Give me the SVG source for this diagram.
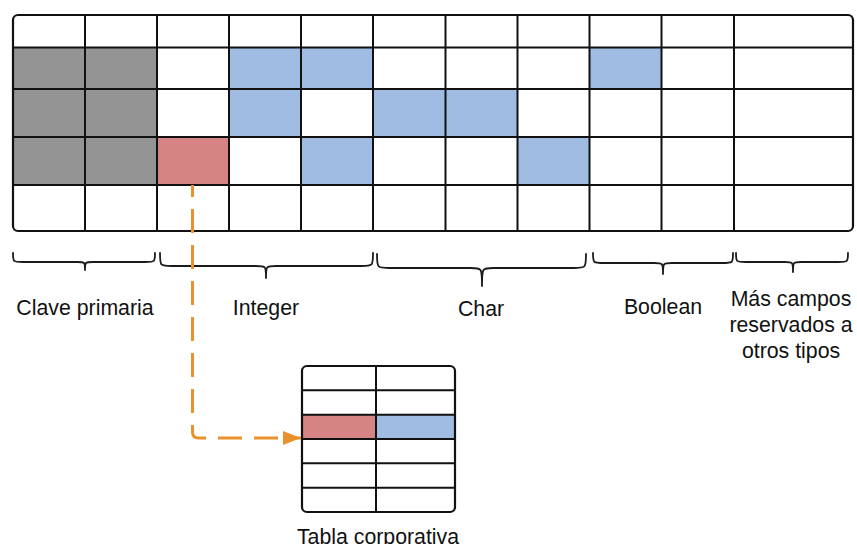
<svg xmlns="http://www.w3.org/2000/svg" width="857" height="544" viewBox="0 0 857 544">
  <style>
    .grid { stroke: #111; stroke-width: 2; fill: none; }
    .frame { stroke: #111; stroke-width: 2.2; fill: none; }
    .pk { fill: #949494; }
    .val { fill: #A0BCE3; }
    .fk { fill: #D58383; }
    .brace { stroke: #1a1a1a; stroke-width: 1.8; fill: none; stroke-linecap: round; stroke-linejoin: round; }
    .lbl { font-family: "Liberation Sans", Arial, sans-serif; font-size: 21.3px; fill: #111; text-anchor: middle; }
    .link { stroke: #E8912D; stroke-width: 3; fill: none; stroke-dasharray: 24 12; stroke-dashoffset: 12; }
  </style>
  <defs>
    <marker id="arrow" viewBox="0 0 18 14" refX="18" refY="7" markerWidth="18" markerHeight="14" markerUnits="userSpaceOnUse" orient="auto">
      <path d="M0,0 L18,7 L0,14 Z" fill="#E8912D"/>
    </marker>
  </defs>
  <rect width="857" height="544" fill="#fff"/>

  <!-- Record storage grid -->
  <g id="registro">
    <rect x="13" y="15" width="840" height="216" rx="5" fill="#fff"/>
    <!-- primary key cells -->
    <rect class="pk" x="13" y="47.5" width="144" height="137.5"/>
    <!-- row 1 -->
    <rect class="val" x="229" y="47.5" width="144" height="41.5"/>
    <rect class="val" x="589.5" y="47.5" width="72" height="41.5"/>
    <!-- row 2 -->
    <rect class="val" x="229" y="89" width="72" height="48"/>
    <rect class="val" x="373" y="89" width="144.5" height="48"/>
    <!-- row 3 -->
    <rect class="fk" x="157" y="137" width="72" height="48"/>
    <rect class="val" x="301" y="137" width="72" height="48"/>
    <rect class="val" x="517.5" y="137" width="72" height="48"/>
    <!-- grid lines -->
    <path class="grid" d="M13,47.5 H853 M13,89 H853 M13,137 H853 M13,185 H853
      M85,15 V231 M157,15 V231 M229,15 V231 M301,15 V231 M373,15 V231
      M445.5,15 V231 M517.5,15 V231 M589.5,15 V231 M661.5,15 V231 M734,15 V231"/>
    <rect class="frame" x="13" y="15" width="840" height="216" rx="5"/>
  </g>

  <!-- Field group braces -->
  <g id="llaves">
    <path class="brace" d="M13,253 C13,262 13,262 23,262 L77,262 C85,262 85,262 85,270 C85,262 85,262 93,262 L145,262 C155,262 155,262 155,253"/>
    <path class="brace" d="M160,253 C160,266 160,266 172,266 L256,266 C266,266 266,266 266,278 C266,266 266,266 276,266 L361,266 C373,266 373,266 373,253"/>
    <path class="brace" d="M377,254 C377,268 377,268 390,268 L471,268 C482,268 482,268 482,286 C482,268 482,268 493,268 L573,268 C586,268 586,268 586,254"/>
    <path class="brace" d="M593,253 C593,263 593,263 604,263 L654,263 C663,263 663,263 663,274 C663,263 663,263 672,263 L722,263 C733,263 733,263 733,253"/>
    <path class="brace" d="M736,253 C736,262 736,262 746,262 L785,262 C793,262 793,262 793,272 C793,262 793,262 801,262 L838,262 C848,262 848,262 848,253"/>
  </g>

  <!-- Field group labels -->
  <g id="etiquetas">
    <text class="lbl" x="85" y="315">Clave primaria</text>
    <text class="lbl" x="266" y="315">Integer</text>
    <text class="lbl" x="481" y="316">Char</text>
    <text class="lbl" x="663" y="314">Boolean</text>
    <text class="lbl" x="791" y="306">Más campos</text>
    <text class="lbl" x="791" y="332">reservados a</text>
    <text class="lbl" x="791" y="358">otros tipos</text>
  </g>

  <!-- Referenced table -->
  <g id="tabla-corporativa">
    <rect x="302" y="366" width="153" height="146" rx="5" fill="#fff"/>
    <rect class="fk" x="302" y="414.7" width="74" height="24.3"/>
    <rect class="val" x="376" y="414.7" width="79" height="24.3"/>
    <path class="grid" d="M302,390.3 H455 M302,414.7 H455 M302,439 H455 M302,463.3 H455 M302,487.7 H455 M376,366 V512"/>
    <rect class="frame" x="302" y="366" width="153" height="146" rx="5"/>
    <text class="lbl" x="378" y="544">Tabla corporativa</text>
  </g>

  <!-- Foreign key reference -->
  <g id="conectores">
    <path class="link" d="M192.5,185 V432 Q192.5,438 198.5,438 H301" marker-end="url(#arrow)"/>
  </g>
</svg>
